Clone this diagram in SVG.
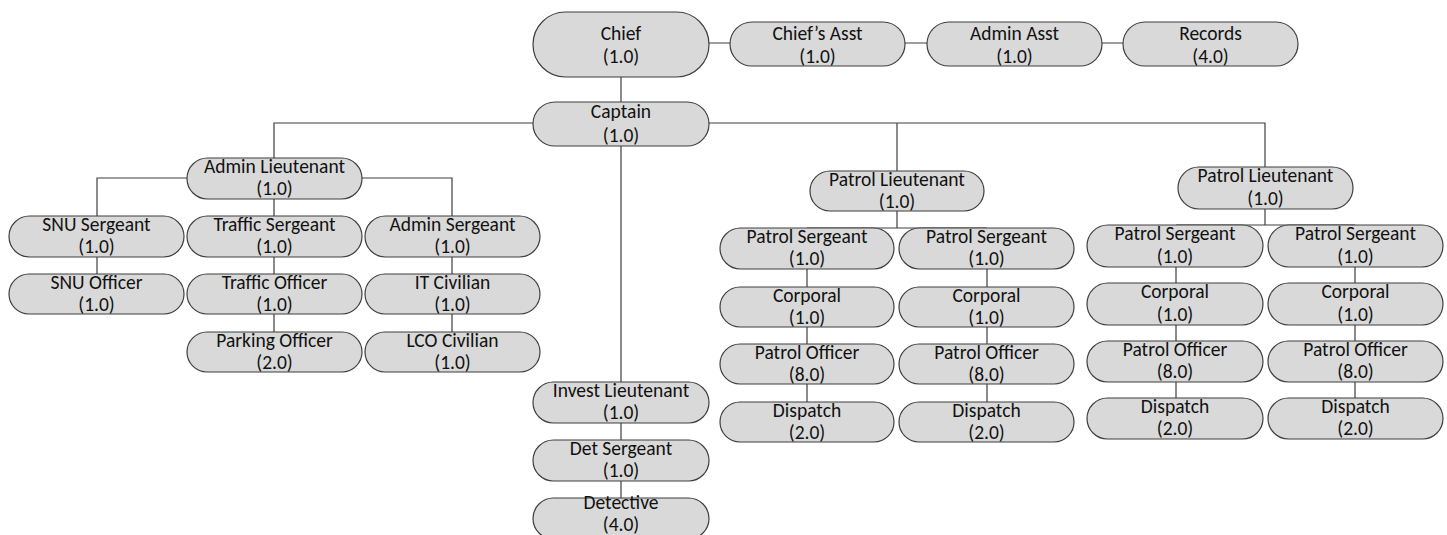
<svg xmlns="http://www.w3.org/2000/svg" width="1447" height="535" viewBox="0 0 1447 535">
<style>
.n rect{fill:#d9d9d9;stroke:#3f3f3f;stroke-width:1.2}
.n text{font-family:Calibri,Carlito,Lato,"Liberation Sans",sans-serif;font-size:19.5px;fill:#111;text-anchor:middle}
#connectors{fill:none;stroke:#3f3f3f;stroke-width:1.2}
</style>
<rect width="1447" height="535" fill="#fff"/>
<g id="connectors">
<path d="M709 43H730M905 43H927M1102 43H1123"/>
<path d="M621 77V102"/>
<path d="M533 123H274V158M709 123H1265V167M897 123V171"/>
<path d="M621 146V382M621 423V440M621 481V498"/>
<path d="M187 178H97V216M361 178H452V216M274 199V216"/>
<path d="M97 257V274M274 257V274M274 314V332M452 257V274M452 314V332"/>
<path d="M897 211V228M807 228H987"/>
<path d="M807 269V287M807 327V344M807 384V402M987 269V287M987 327V344M987 384V402"/>
<path d="M1265 209V225M1176 225H1355"/>
<path d="M1176 267V283M1176 325V341M1176 382V398M1355 267V283M1355 325V341M1355 382V398"/>
</g>
<g id="chief" class="n"><rect x="533" y="12" width="176" height="65" rx="32.5"/><text x="621" y="40">Chief<tspan x="621" y="63">(1.0)</tspan></text></g>
<g id="chiefs-asst" class="n"><rect x="730" y="22" width="175" height="44" rx="22"/><text x="817.5" y="40">Chief’s Asst<tspan x="817.5" y="63">(1.0)</tspan></text></g>
<g id="admin-asst" class="n"><rect x="927" y="22" width="175" height="44" rx="22"/><text x="1014.5" y="40">Admin Asst<tspan x="1014.5" y="63">(1.0)</tspan></text></g>
<g id="records" class="n"><rect x="1123" y="22" width="175" height="44" rx="22"/><text x="1210.5" y="40">Records<tspan x="1210.5" y="63">(4.0)</tspan></text></g>
<g id="captain" class="n"><rect x="533" y="102" width="176" height="44" rx="22"/><text x="621" y="118">Captain<tspan x="621" y="142">(1.0)</tspan></text></g>
<g id="admin-lt" class="n"><rect x="187" y="158" width="175" height="41" rx="20.5"/><text x="274.5" y="173">Admin Lieutenant<tspan x="274.5" y="195">(1.0)</tspan></text></g>
<g id="snu-sgt" class="n"><rect x="9" y="216" width="175" height="41" rx="20.5"/><text x="96.5" y="231">SNU Sergeant<tspan x="96.5" y="253">(1.0)</tspan></text></g>
<g id="traffic-sgt" class="n"><rect x="187" y="216" width="175" height="41" rx="20.5"/><text x="274.5" y="231">Traffic Sergeant<tspan x="274.5" y="253">(1.0)</tspan></text></g>
<g id="admin-sgt" class="n"><rect x="365" y="216" width="175" height="41" rx="20.5"/><text x="452.5" y="231">Admin Sergeant<tspan x="452.5" y="253">(1.0)</tspan></text></g>
<g id="snu-officer" class="n"><rect x="9" y="274" width="175" height="40" rx="20"/><text x="96.5" y="289">SNU Officer<tspan x="96.5" y="311">(1.0)</tspan></text></g>
<g id="traffic-officer" class="n"><rect x="187" y="274" width="175" height="40" rx="20"/><text x="274.5" y="289">Traffic Officer<tspan x="274.5" y="311">(1.0)</tspan></text></g>
<g id="it-civilian" class="n"><rect x="365" y="274" width="175" height="40" rx="20"/><text x="452.5" y="289">IT Civilian<tspan x="452.5" y="311">(1.0)</tspan></text></g>
<g id="parking-officer" class="n"><rect x="187" y="332" width="175" height="40" rx="20"/><text x="274.5" y="347">Parking Officer<tspan x="274.5" y="369">(2.0)</tspan></text></g>
<g id="lco-civilian" class="n"><rect x="365" y="332" width="175" height="40" rx="20"/><text x="452.5" y="347">LCO Civilian<tspan x="452.5" y="369">(1.0)</tspan></text></g>
<g id="invest-lt" class="n"><rect x="533" y="382" width="176" height="41" rx="20.5"/><text x="621" y="397">Invest Lieutenant<tspan x="621" y="419">(1.0)</tspan></text></g>
<g id="det-sgt" class="n"><rect x="533" y="440" width="176" height="41" rx="20.5"/><text x="621" y="455">Det Sergeant<tspan x="621" y="477">(1.0)</tspan></text></g>
<g id="detective" class="n"><rect x="533" y="498" width="176" height="41" rx="20.5"/><text x="621" y="509">Detective<tspan x="621" y="531">(4.0)</tspan></text></g>
<g id="patrol-lt-1" class="n"><rect x="810" y="171" width="174" height="40" rx="20"/><text x="897" y="186">Patrol Lieutenant<tspan x="897" y="208">(1.0)</tspan></text></g>
<g id="patrol-sgt-1" class="n"><rect x="720" y="228" width="174" height="41" rx="20.5"/><text x="807" y="243">Patrol Sergeant<tspan x="807" y="265">(1.0)</tspan></text></g>
<g id="patrol-sgt-2" class="n"><rect x="899" y="228" width="175" height="41" rx="20.5"/><text x="986.5" y="243">Patrol Sergeant<tspan x="986.5" y="265">(1.0)</tspan></text></g>
<g id="corporal-1" class="n"><rect x="720" y="287" width="174" height="40" rx="20"/><text x="807" y="302">Corporal<tspan x="807" y="324">(1.0)</tspan></text></g>
<g id="corporal-2" class="n"><rect x="899" y="287" width="175" height="40" rx="20"/><text x="986.5" y="302">Corporal<tspan x="986.5" y="324">(1.0)</tspan></text></g>
<g id="patrol-officer-1" class="n"><rect x="720" y="344" width="174" height="40" rx="20"/><text x="807" y="359">Patrol Officer<tspan x="807" y="381">(8.0)</tspan></text></g>
<g id="patrol-officer-2" class="n"><rect x="899" y="344" width="175" height="40" rx="20"/><text x="986.5" y="359">Patrol Officer<tspan x="986.5" y="381">(8.0)</tspan></text></g>
<g id="dispatch-1" class="n"><rect x="720" y="402" width="174" height="40" rx="20"/><text x="807" y="417">Dispatch<tspan x="807" y="439">(2.0)</tspan></text></g>
<g id="dispatch-2" class="n"><rect x="899" y="402" width="175" height="40" rx="20"/><text x="986.5" y="417">Dispatch<tspan x="986.5" y="439">(2.0)</tspan></text></g>
<g id="patrol-lt-2" class="n"><rect x="1178" y="167" width="175" height="42" rx="21"/><text x="1265.5" y="182">Patrol Lieutenant<tspan x="1265.5" y="205">(1.0)</tspan></text></g>
<g id="patrol-sgt-3" class="n"><rect x="1087" y="225" width="176" height="42" rx="21"/><text x="1175" y="240">Patrol Sergeant<tspan x="1175" y="263">(1.0)</tspan></text></g>
<g id="patrol-sgt-4" class="n"><rect x="1268" y="225" width="175" height="42" rx="21"/><text x="1355.5" y="240">Patrol Sergeant<tspan x="1355.5" y="263">(1.0)</tspan></text></g>
<g id="corporal-3" class="n"><rect x="1087" y="283" width="176" height="42" rx="21"/><text x="1175" y="298">Corporal<tspan x="1175" y="321">(1.0)</tspan></text></g>
<g id="corporal-4" class="n"><rect x="1268" y="283" width="175" height="42" rx="21"/><text x="1355.5" y="298">Corporal<tspan x="1355.5" y="321">(1.0)</tspan></text></g>
<g id="patrol-officer-3" class="n"><rect x="1087" y="341" width="176" height="41" rx="20.5"/><text x="1175" y="356">Patrol Officer<tspan x="1175" y="378">(8.0)</tspan></text></g>
<g id="patrol-officer-4" class="n"><rect x="1268" y="341" width="175" height="41" rx="20.5"/><text x="1355.5" y="356">Patrol Officer<tspan x="1355.5" y="378">(8.0)</tspan></text></g>
<g id="dispatch-3" class="n"><rect x="1087" y="398" width="176" height="41" rx="20.5"/><text x="1175" y="413">Dispatch<tspan x="1175" y="435">(2.0)</tspan></text></g>
<g id="dispatch-4" class="n"><rect x="1268" y="398" width="175" height="41" rx="20.5"/><text x="1355.5" y="413">Dispatch<tspan x="1355.5" y="435">(2.0)</tspan></text></g>
</svg>
